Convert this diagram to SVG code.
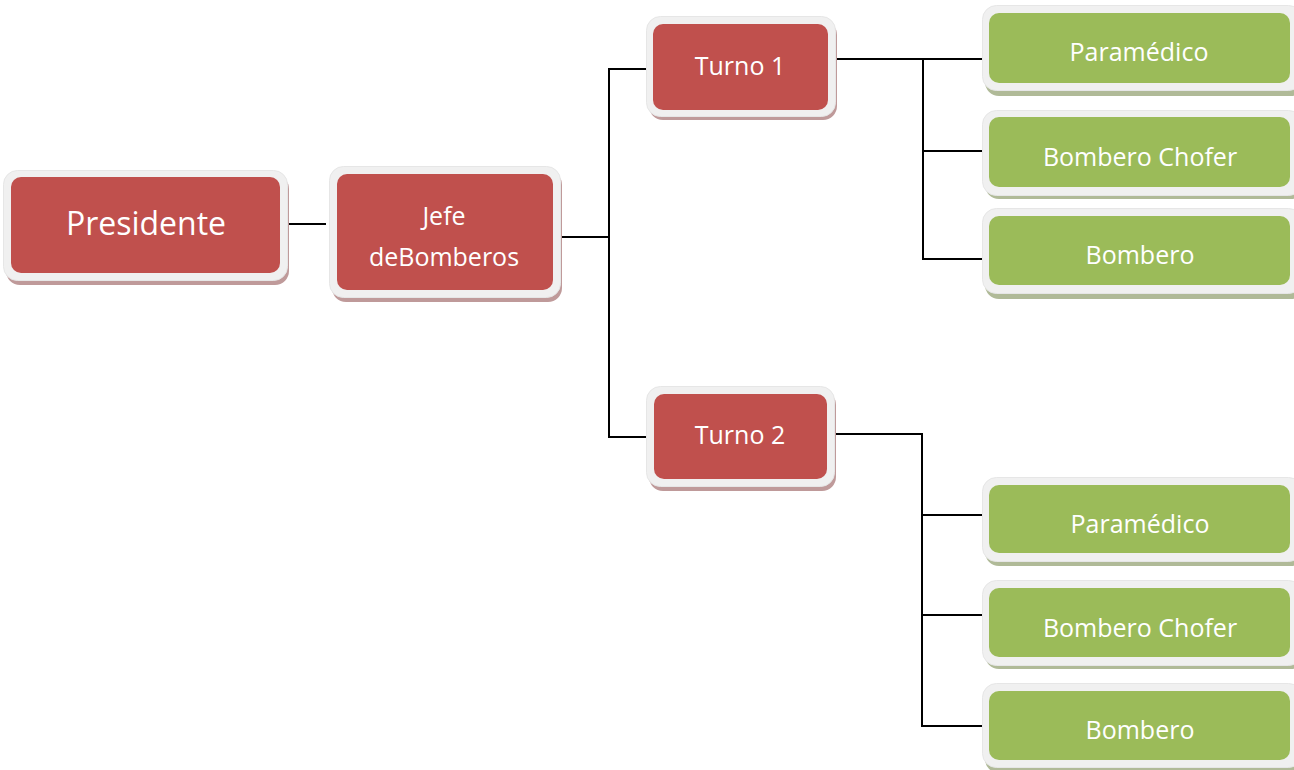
<svg xmlns="http://www.w3.org/2000/svg" width="1294" height="770" viewBox="0 0 1294 770">
  <style>
    .frame { fill: #f0f0f0; stroke: #e6e6e6; stroke-width: 1; }
    .shadow-red { fill: #bf9a9a; }
    .shadow-green { fill: #b0ba98; }
    .red { fill: #c0504d; }
    .green { fill: #9bbb59; }
    .label { font-family: "Open Sans", "Noto Sans", sans-serif; fill: #ffffff; text-anchor: middle; font-size: 25px; }
    .big { font-size: 32px; }
    .wire { fill: none; stroke: #000000; stroke-width: 2; }
  </style>

  <!-- connectors -->
  <g id="connectors">
    <path class="wire" d="M284 224 H326"/>
    <path class="wire" d="M556 237 H609"/>
    <path class="wire" d="M650 69 H609 V437 H650"/>
    <path class="wire" d="M835 59 H985"/>
    <path class="wire" d="M923 59 V259 H987"/>
    <path class="wire" d="M923 151 H987"/>
    <path class="wire" d="M830 434 H922 V726 H987"/>
    <path class="wire" d="M922 515 H987"/>
    <path class="wire" d="M922 615 H987"/>
  </g>

  <!-- Presidente -->
  <g id="presidente">
    <rect class="shadow-red" x="6" y="175" width="283" height="110" rx="14"/>
    <rect class="frame" x="3.5" y="170.5" width="284" height="110" rx="14"/>
    <rect class="red" x="11" y="177" width="269" height="96" rx="10"/>
    <text class="label big" x="146" y="235">Presidente</text>
  </g>

  <!-- Jefe de Bomberos -->
  <g id="jefe">
    <rect class="shadow-red" x="332" y="171" width="230" height="131" rx="14"/>
    <rect class="frame" x="329.5" y="166.5" width="231" height="131" rx="14"/>
    <rect class="red" x="337" y="174" width="216" height="116" rx="10"/>
    <text class="label" x="444" y="225">Jefe</text>
    <text class="label" x="444" y="266">deBomberos</text>
  </g>

  <!-- Turno 1 -->
  <g id="turno1">
    <rect class="shadow-red" x="649" y="21" width="188" height="99" rx="14"/>
    <rect class="frame" x="646.5" y="16.5" width="189" height="100" rx="14"/>
    <rect class="red" x="653" y="24" width="175" height="86" rx="10"/>
    <text class="label" x="740" y="75">Turno 1</text>
  </g>

  <!-- Turno 2 -->
  <g id="turno2">
    <rect class="shadow-red" x="649" y="391" width="187" height="100" rx="14"/>
    <rect class="frame" x="646.5" y="386.5" width="188" height="100" rx="14"/>
    <rect class="red" x="654" y="394" width="173" height="85" rx="10"/>
    <text class="label" x="740" y="444">Turno 2</text>
  </g>

  <!-- Turno 1 staff -->
  <g id="paramedico1">
    <rect class="shadow-green" x="985" y="10" width="320" height="86" rx="14"/>
    <rect class="frame" x="982.5" y="5.5" width="320" height="85" rx="14"/>
    <rect class="green" x="989" y="13" width="301" height="70" rx="10"/>
    <text class="label" x="1139" y="61">Paramédico</text>
  </g>
  <g id="chofer1">
    <rect class="shadow-green" x="985" y="114" width="320" height="85" rx="14"/>
    <rect class="frame" x="982.5" y="110.5" width="320" height="85" rx="14"/>
    <rect class="green" x="989" y="117" width="301" height="70" rx="10"/>
    <text class="label" x="1140" y="166">Bombero Chofer</text>
  </g>
  <g id="bombero1">
    <rect class="shadow-green" x="985" y="213" width="320" height="86" rx="14"/>
    <rect class="frame" x="982.5" y="208.5" width="320" height="85" rx="14"/>
    <rect class="green" x="989" y="216" width="301" height="69" rx="10"/>
    <text class="label" x="1140" y="264">Bombero</text>
  </g>

  <!-- Turno 2 staff -->
  <g id="paramedico2">
    <rect class="shadow-green" x="985" y="481" width="320" height="85" rx="14"/>
    <rect class="frame" x="982.5" y="477.5" width="320" height="84" rx="14"/>
    <rect class="green" x="989" y="485" width="301" height="68" rx="10"/>
    <text class="label" x="1140" y="533">Paramédico</text>
  </g>
  <g id="chofer2">
    <rect class="shadow-green" x="985" y="584" width="320" height="85" rx="14"/>
    <rect class="frame" x="982.5" y="580.5" width="320" height="85" rx="14"/>
    <rect class="green" x="989" y="588" width="301" height="69" rx="10"/>
    <text class="label" x="1140" y="637">Bombero Chofer</text>
  </g>
  <g id="bombero2">
    <rect class="shadow-green" x="985" y="688" width="320" height="85" rx="14"/>
    <rect class="frame" x="982.5" y="683.5" width="320" height="84" rx="14"/>
    <rect class="green" x="989" y="691" width="301" height="69" rx="10"/>
    <text class="label" x="1140" y="739">Bombero</text>
  </g>
</svg>
